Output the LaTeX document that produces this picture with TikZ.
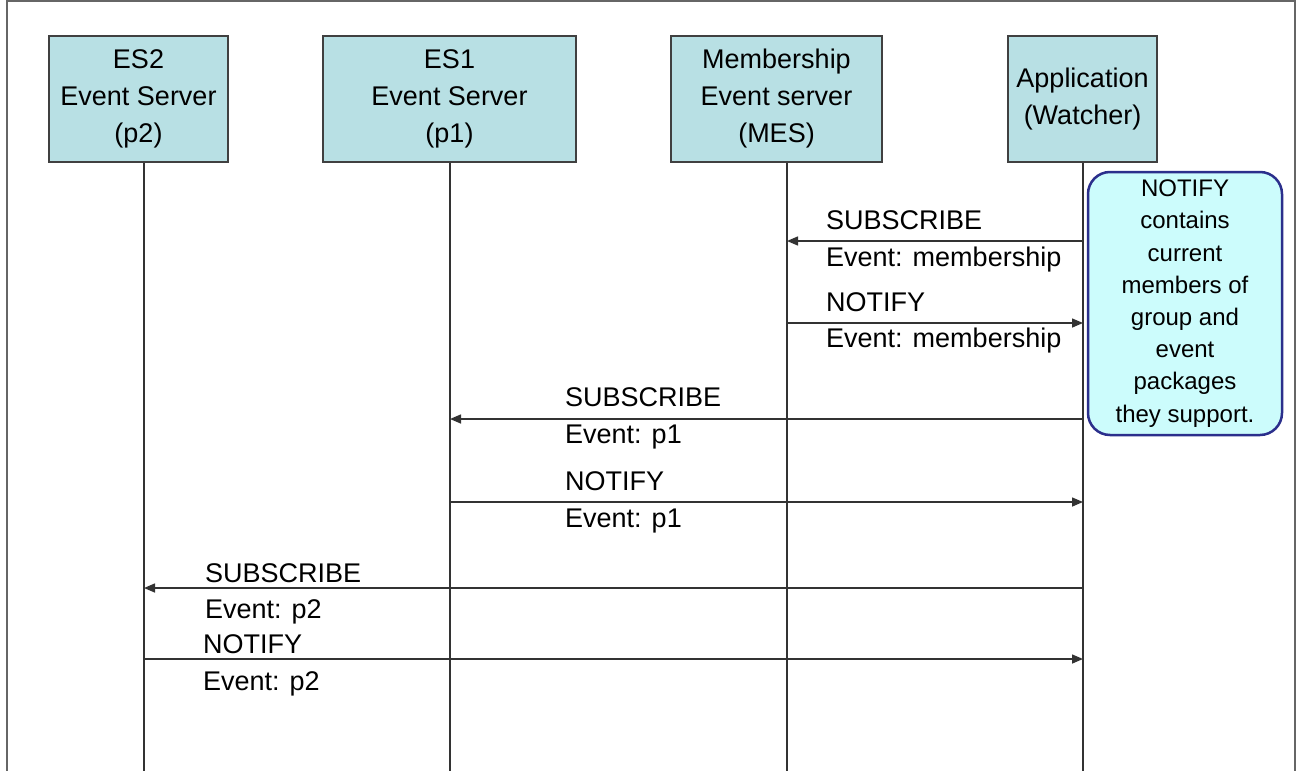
\documentclass[tikz,border=0pt]{standalone}
\usepackage{fontspec}
\setmainfont{Liberation Sans}
\usetikzlibrary{arrows.meta}
\definecolor{headfill}{RGB}{184,224,228}
\definecolor{notefill}{RGB}{204,252,252}
\definecolor{noteline}{RGB}{43,47,140}
\tikzset{head/.style={draw=black!75,line width=1.5pt,fill=headfill,align=center,inner sep=0pt,minimum height=126pt,font=\fontsize{27}{37}\selectfont}}
\tikzset{life/.style={draw=black!80,line width=1.5pt}}
\tikzset{msg/.style={life,-{Triangle[length=11pt,width=9pt]}}}
\tikzset{lab/.style={anchor=base west,inner sep=0pt,font=\fontsize{27}{32}\selectfont}}
\tikzset{note/.style={draw=noteline,line width=2.5pt,fill=notefill,rounded corners=22pt,align=center,inner sep=0pt,minimum width=194pt,minimum height=263pt,font=\fontsize{24}{32.2}\selectfont}}

\begin{document}
\begin{tikzpicture}[x=1pt,y=-1pt]
    \useasboundingbox (0,0) rectangle (1296,771);
    \draw[black!60,line width=1.5pt] (7,771) -- (7,1) -- (1295,1) -- (1295,771);

    % heads
    \node[head,minimum width=179pt] (es2) at (138.5,99) {ES2\\Event Server\\(p2)};
    \node[head,minimum width=253pt] (es1) at (449.5,99) {ES1\\Event Server\\(p1)};
    \node[head,minimum width=211pt] (mes) at (776.5,99) {Membership\\Event server\\(MES)};
    \node[head,minimum width=149pt] (app) at (1082.5,99) {Application\\(Watcher)};

    % lifelines
    \foreach \n/\x in {es2/144,es1/450,mes/787,app/1083}{
      \coordinate (\n-l) at (\x,771);
      \draw[life] (\n.south -| \n-l) -- (\n-l);
    }

    % messages
    \foreach \y/\a/\b/\lx/\ya/\yb/\kind/\ev in {
        241/app/mes/826/229/266/SUBSCRIBE/membership,
        323/mes/app/826/311/347/NOTIFY/membership,
        419/app/es1/565/406/443/SUBSCRIBE/p1,
        502/es1/app/565/490/527/NOTIFY/p1,
        588/app/es2/205/582/618/SUBSCRIBE/p2,
        659/es2/app/203/653/690/NOTIFY/p2}{
      \draw[msg] (\a-l |- 0,\y) -- (\b-l |- 0,\y);
      \node[lab] (top\y) at (\lx,\ya) {\kind};
      \node[lab] (bot\y) at (\lx,\yb) {Event: \ev};
    }

    \node[note] (info) at (1185,303.5) {NOTIFY\\contains\\current\\members of\\group and\\event\\packages\\they support.};
\end{tikzpicture}
\end{document}
